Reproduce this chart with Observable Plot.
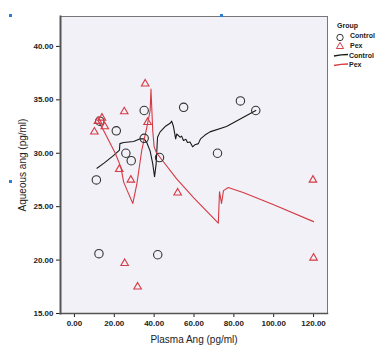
<!DOCTYPE html>
<html>
<head>
<meta charset="utf-8">
<script src="https://cdn.jsdelivr.net/npm/d3@7"></script>
<script src="https://cdn.jsdelivr.net/npm/@observablehq/plot@0.6"></script>
<style>
  html, body { margin: 0; padding: 0; background: #fff; }
  #chart svg { display: block; }
</style>
</head>
<body>
<div id="chart"></div>
<script>
// Scatter points
const controlX = [12.7, 21, 35, 35, 25.8, 28.5, 11, 42.7, 54.8, 83.3, 91, 71.8, 12.3, 41.8];
const controlY = [33.0, 32.1, 34.0, 31.4, 30.0, 29.3, 27.5, 29.6, 34.3, 34.9, 34.0, 30.0, 20.6, 20.5];
const pexX = [35.5, 25, 13.8, 11.8, 15.2, 10, 36.7, 22.5, 28.3, 51.8, 25.2, 31.7, 119.7, 120];
const pexY = [36.5, 33.9, 33.3, 33.0, 32.5, 32.0, 32.9, 28.5, 27.5, 26.3, 19.7, 17.5, 27.5, 20.2];

// Fit lines
const controlLineX = [11.3, 15, 19.7, 22.6, 22.8, 24.7, 29.7, 33, 35, 36.3, 38, 39.3, 40.2, 41, 41.7, 43, 45.5, 48, 48.8, 49.7, 50.8, 51.3, 53, 53.8, 54.7, 56, 56.7, 58, 59.3, 60.5, 62.2, 63.3, 65.5, 68, 76.3, 91];
const controlLineY = [28.6, 29.1, 29.8, 30.3, 30.9, 31.0, 31.1, 31.35, 31.35, 31.0, 30.2, 29.0, 27.8, 29.0, 31.5, 32.0, 32.5, 32.8, 33.0, 32.5, 31.35, 31.8, 31.5, 31.6, 31.2, 31.3, 31.0, 31.05, 30.6, 30.8, 30.9, 31.35, 31.7, 32.0, 32.5, 34.0];
const pexLineX = [11.7, 14.7, 17.2, 20.5, 23.3, 24.7, 27.2, 29.3, 31.3, 33.8, 36.3, 38.0, 38.4, 39.3, 40, 41, 43, 51.3, 60, 72.2, 72.8, 73.8, 74.8, 77.2, 85, 99.7, 120];
const pexLineY = [33.1, 32.1, 31.2, 30.0, 28.7, 27.3, 26.2, 25.3, 27.1, 30.3, 32.4, 34.0, 36.0, 32.1, 30.6, 30.1, 29.6, 27.6, 25.8, 23.45, 26.4, 25.3, 26.5, 26.8, 26.3, 25.2, 23.6];

// Axis ticks
const xTicks = [0, 20, 40, 60, 80, 100, 120];
const yTicks = [15, 20, 25, 30, 35, 40];
const groups = ["Control", "Pex"];

const controlPts = controlX.map((x, i) => ({x, y: controlY[i]}));
const pexPts = pexX.map((x, i) => ({x, y: pexY[i]}));
const controlLine = controlLineX.map((x, i) => ({x, y: controlLineY[i]}));
const pexLine = pexLineX.map((x, i) => ({x, y: pexLineY[i]}));

const RED = "#d63a44";
const fmt = d3.format(".2f");

const chart = Plot.plot({
  width: 383,
  height: 351,
  marginLeft: 60,
  marginRight: 56,
  marginTop: 16,
  marginBottom: 38,
  style: {fontFamily: "'Liberation Sans', Arial, sans-serif", fontSize: "8px", color: "#222", background: "#fff"},
  x: {domain: [-7, 127]},
  y: {domain: [15, 42.8]},
  marks: [
    Plot.frame({fill: "#f1f1f7", stroke: "#777", strokeWidth: 1}),
    Plot.axisX({ticks: xTicks, tickFormat: fmt, tickSize: 4, tickPadding: 3, fontWeight: "bold",
      label: "Plasma Ang (pg/ml)", labelAnchor: "center", labelArrow: "none", labelOffset: 29}),
    Plot.axisY({ticks: yTicks, tickFormat: fmt, tickSize: 4, tickPadding: 3, fontWeight: "bold",
      label: "Aqueous ang (pg/ml)", labelAnchor: "center", labelArrow: "none", labelOffset: 42}),
    Plot.frame({anchor: "left", stroke: "#555", strokeWidth: 2}),
    Plot.frame({anchor: "bottom", stroke: "#555", strokeWidth: 1.5}),
    Plot.line(controlLine, {x: "x", y: "y", stroke: "#1a1a1a", strokeWidth: 1.1}),
    Plot.line(pexLine, {x: "x", y: "y", stroke: RED, strokeWidth: 1.1}),
    Plot.dot(controlPts, {x: "x", y: "y", r: 4.2, stroke: "#333", strokeWidth: 1.1, fill: "none"}),
    Plot.dot(pexPts, {x: "x", y: "y", r: 2.8, symbol: "triangle", stroke: RED, strokeWidth: 1.1, fill: "none"})
  ]
});

document.getElementById("chart").appendChild(chart);

// Style the axis titles
const svg = d3.select(chart);
svg.selectAll("g[aria-label='x-axis label'] text, g[aria-label='y-axis label'] text")
  .style("font-size", "10px").style("font-weight", "normal").style("fill", "#222");

// Legend
const lg = svg.append("g").attr("font-family", "'Liberation Sans', Arial, sans-serif")
  .attr("font-size", "7px").attr("font-weight", "bold").attr("fill", "#222")
  .attr("text-anchor", "start");
lg.append("text").attr("x", 337).attr("y", 28).attr("text-anchor", "start").text("Group");
const sym = d3.symbol(d3.symbolTriangle, 22)();
groups.forEach((g, i) => {
  const yy = 38 + i * 9.5;
  if (i === 0) {
    lg.append("circle").attr("cx", 340).attr("cy", yy - 0.5).attr("r", 3.2)
      .attr("fill", "none").attr("stroke", "#333").attr("stroke-width", 1);
  } else {
    lg.append("path").attr("d", sym).attr("transform", `translate(340,${yy - 1})`)
      .attr("fill", "none").attr("stroke", RED).attr("stroke-width", 1);
  }
  lg.append("text").attr("x", 350).attr("y", yy).attr("text-anchor", "start").text(g);
});
groups.forEach((g, i) => {
  const yy = 57.5 + i * 9.5;
  lg.append("path").attr("d", `M334,${yy - 1.5} Q341,${yy - 3} 348,${yy - 3}`)
    .attr("fill", "none").attr("stroke", i === 0 ? "#1a1a1a" : RED).attr("stroke-width", 1.3);
  lg.append("text").attr("x", 349).attr("y", yy).attr("text-anchor", "start").text(g);
});

// small blue scan marks
[[9, 14], [220, 14], [9, 180]].forEach(([x, y]) => {
  svg.append("rect").attr("x", x).attr("y", y).attr("width", 3).attr("height", 3).attr("fill", "#2a7fd4");
});
</script>
</body>
</html>
